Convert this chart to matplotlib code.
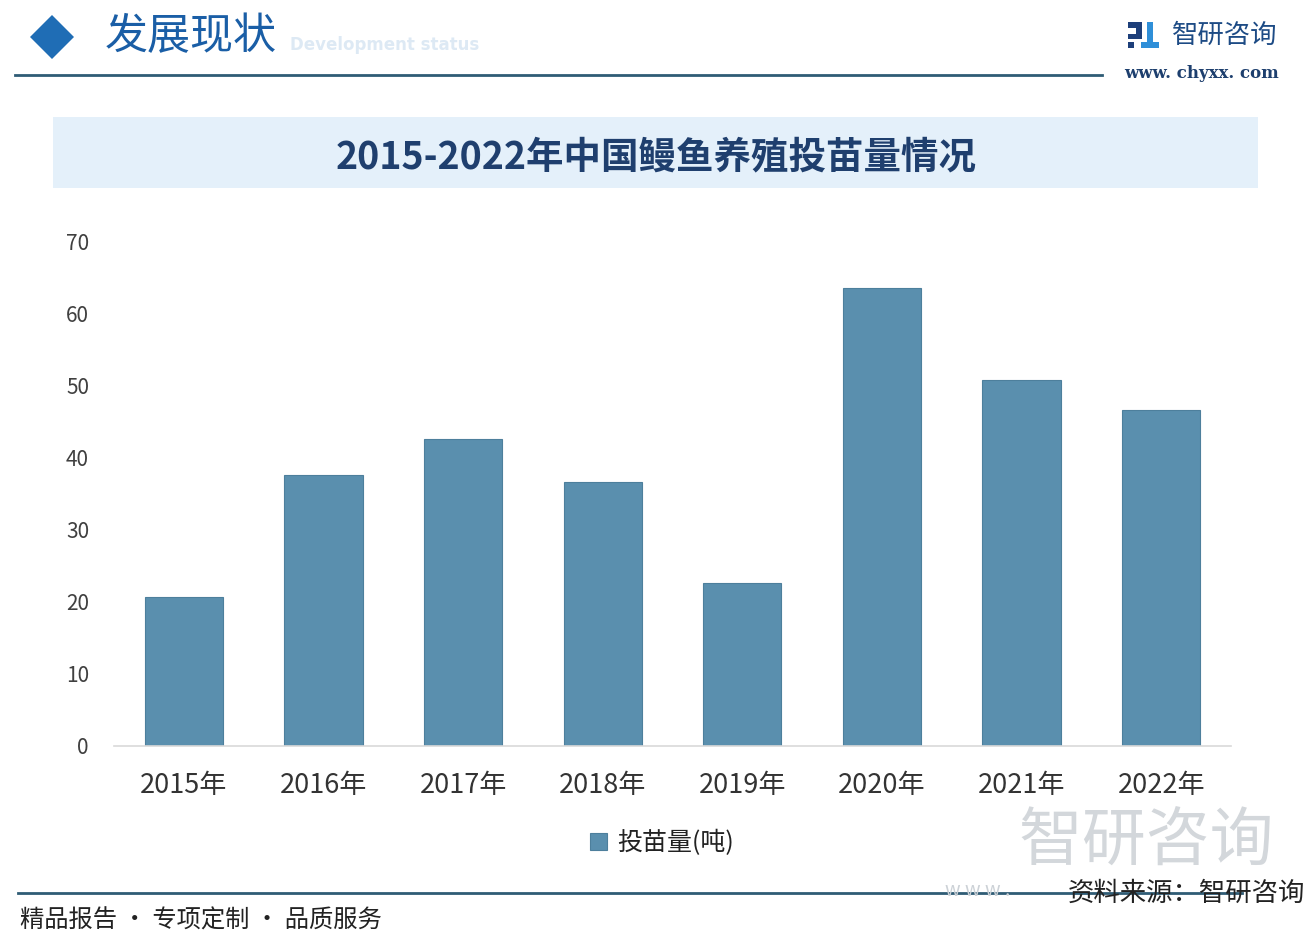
import matplotlib.pyplot as plt
from matplotlib.patches import Rectangle, Polygon

plt.rcParams['font.family'] = ['Noto Sans CJK SC', 'DejaVu Sans']

# data
years = ['2015年', '2016年', '2017年', '2018年', '2019年', '2020年', '2021年', '2022年']
seedlings = [20.7, 37.7, 42.7, 36.6, 22.7, 63.6, 50.8, 46.6]
y_ticks = [0, 10, 20, 30, 40, 50, 60, 70]

title = '2015-2022年中国鳗鱼养殖投苗量情况'
series_name = '投苗量(吨)'

W, H = 1316, 944
fig = plt.figure(figsize=(W / 100, H / 100), dpi=100)
fig.patch.set_facecolor('white')


def fx(px):
    return px / W


def fy(py):
    return 1 - py / H


# -------- header --------
fig.patches.append(Polygon([[fx(30), fy(37)], [fx(52), fy(15)], [fx(74), fy(37)], [fx(52), fy(59)]],
                           closed=True, transform=fig.transFigure, facecolor='#1f6db5', edgecolor='none'))
fig.text(fx(290), fy(45), 'Development status', ha='left', va='center', fontsize=12,
         fontweight='bold', color='#dde9f4', family='DejaVu Sans')
fig.text(fx(105), fy(37), '发展现状', ha='left', va='center', fontsize=31, color='#1a5ea6')
fig.lines.append(plt.Line2D([fx(15), fx(1102)], [fy(75), fy(75)], transform=fig.transFigure,
                            color='#2f5c75', lw=2))

# logo top right
for (x0, y0, w, h, c) in [(1128, 22, 14, 6, '#1d3f7a'), (1136, 28, 6, 8, '#1d3f7a'),
                          (1128, 34, 14, 5, '#1d3f7a'), (1128, 42, 6, 6, '#1d3f7a'),
                          (1147, 22, 6, 26, '#2f8fd8'), (1141, 42, 18, 6, '#2f8fd8')]:
    fig.patches.append(Rectangle((fx(x0), fy(y0 + h)), w / W, h / H, transform=fig.transFigure,
                                 facecolor=c, edgecolor='none'))
fig.text(fx(1172), fy(35), '智研咨询', ha='left', va='center', fontsize=19, color='#1d4b85')
fig.text(fx(1124), fy(73), 'www. chyxx. com', ha='left', va='center', fontsize=12,
         color='#1d3f6e', family='DejaVu Serif', fontweight='bold')

# -------- title banner --------
fig.patches.append(Rectangle((fx(53), fy(188)), 1205 / W, 71 / H, transform=fig.transFigure,
                             facecolor='#e4f0fa', edgecolor='none'))
fig.text(fx(656), fy(157), title, ha='center', va='center', fontsize=27,
         fontweight='bold', color='#1f3f6e')

# faint watermark bottom right
fig.text(fx(1018), fy(843), '智研咨询', ha='left', va='center', fontsize=46, color='#d3d7db')
fig.text(fx(945), fy(890), 'w w w .', ha='left', va='center', fontsize=14, color='#cdd2d7')

# -------- chart --------
ax = fig.add_axes([fx(114), fy(746), (1231 - 114) / W, (746 - 242) / H])
ax.set_facecolor('none')
bars = ax.bar(range(len(years)), seedlings, width=0.56, color='#5a8fae',
              edgecolor='#4d7f9c', linewidth=0.8, label=series_name)
ax.set_xlim(-0.5, len(years) - 0.5)
ax.set_ylim(0, 70)
ax.set_yticks(y_ticks)
ax.set_yticklabels([str(t) for t in y_ticks])
ax.set_xticks(range(len(years)))
ax.set_xticklabels(years)
ax.tick_params(axis='y', length=0, pad=18, labelsize=15, labelcolor='#404040')
ax.tick_params(axis='x', length=0, pad=19, labelsize=19.5, labelcolor='#333333')
for s in ['top', 'right', 'left']:
    ax.spines[s].set_visible(False)
ax.spines['bottom'].set_color('#d9d9d9')
ax.spines['bottom'].set_linewidth(1.2)

ax.legend(loc='center', bbox_to_anchor=(fx(662), fy(843)), bbox_transform=fig.transFigure,
          frameon=False, fontsize=18, handlelength=0.7, handleheight=0.7, handletextpad=0.4,
          labelcolor='#222222')

# -------- footer --------
fig.lines.append(plt.Line2D([fx(18), fx(1242)], [fy(893), fy(893)], transform=fig.transFigure,
                            color='#2f5c75', lw=2))
fig.text(fx(20), fy(921), '精品报告 · 专项定制 · 品质服务', ha='left', va='center', fontsize=17.5,
         color='#222222')
fig.text(fx(1305), fy(893), '资料来源：智研咨询', ha='right', va='center', fontsize=19,
         color='#222222')

fig.savefig('out.png', dpi=100, facecolor='white')
